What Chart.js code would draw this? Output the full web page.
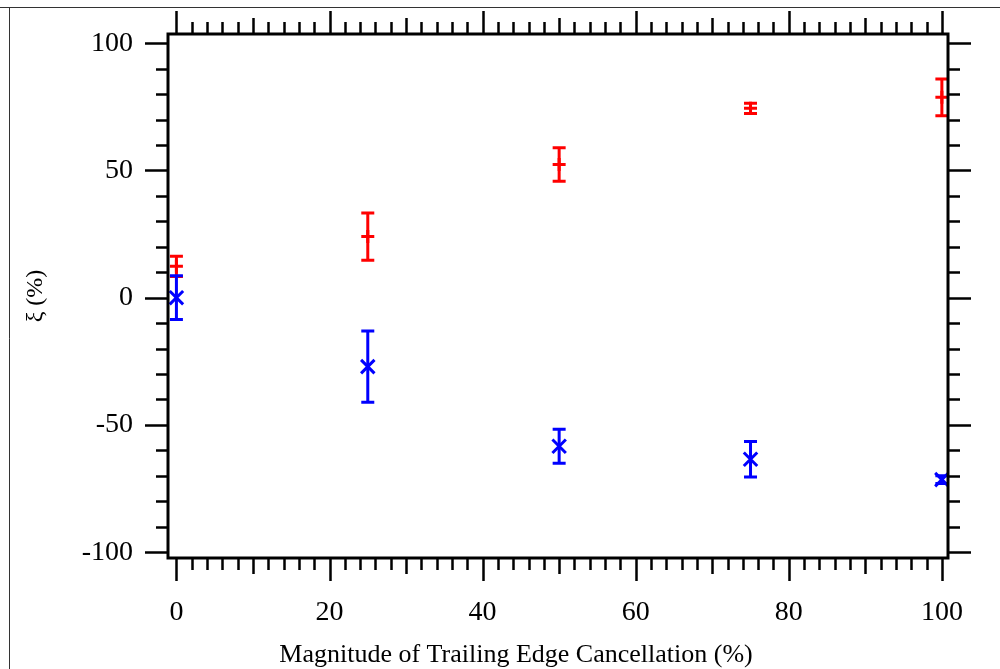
<!DOCTYPE html>
<html>
<head>
<meta charset="utf-8">
<script src="https://cdn.jsdelivr.net/npm/chart.js@4.4.1/dist/chart.umd.min.js"></script>
<style>
    html, body { margin: 0; padding: 0; background: #fff; }
    #wrap { width: 1000px; height: 669px; }
</style>
</head>
<body>
<div id="wrap"><canvas id="xiChart" width="1000" height="669"></canvas></div>
<script>
// Trailing edge cancellation magnitude (%)
const cancellation = [0, 25, 50, 75, 100];

// Red series: mean and half-width of the error bar
const redValues = [12.3, 24.0, 52.3, 74.4, 78.7];
const redErrors = [4.0, 9.3, 6.6, 2.0, 7.2];

// Blue series
const blueValues = [0, -27.1, -58.4, -63.5, -71.5];
const blueErrors = [8.6, 14.0, 6.7, 7.0, 1.5];

// Labelled ticks
const xTickLabels = [0, 20, 40, 60, 80, 100];
const yTickLabels = [-100, -50, 0, 50, 100];

const xTitle = 'Magnitude of Trailing Edge Cancellation (%)';
const serif = '"Liberation Serif", "Times New Roman", serif';

function toPoints(values) {
    return cancellation.map((x, i) => ({ x: x, y: values[i] }));
}

// White page with the thin outer frame along the top and left edges
const pageFrame = {
    id: 'pageFrame',
    beforeDraw(chart) {
        const ctx = chart.ctx;
        ctx.save();
        ctx.fillStyle = '#fff';
        ctx.fillRect(0, 0, chart.width, chart.height);
        ctx.strokeStyle = '#333';
        ctx.lineWidth = 1;
        ctx.beginPath();
        ctx.moveTo(0, 7.5);
        ctx.lineTo(chart.width, 7.5);
        ctx.moveTo(9.5, 7.5);
        ctx.lineTo(9.5, chart.height);
        ctx.stroke();
        ctx.restore();
    }
};

// Vertical error bars with caps, drawn under the markers
const errorBars = {
    id: 'errorBars',
    beforeDatasetsDraw(chart) {
        const ctx = chart.ctx;
        const xs = chart.scales.x;
        const ys = chart.scales.y;
        ctx.save();
        chart.data.datasets.forEach(ds => {
            ctx.strokeStyle = ds.borderColor;
            ctx.lineWidth = 3;
            ds.data.forEach((p, i) => {
                const e = ds.errors[i];
                const px = xs.getPixelForValue(p.x);
                const top = ys.getPixelForValue(p.y + e);
                const bot = ys.getPixelForValue(p.y - e);
                ctx.beginPath();
                ctx.moveTo(px, top);
                ctx.lineTo(px, bot);
                ctx.moveTo(px - 6.5, top);
                ctx.lineTo(px + 6.5, top);
                ctx.moveTo(px - 6.5, bot);
                ctx.lineTo(px + 6.5, bot);
                ctx.stroke();
            });
        });
        ctx.restore();
    }
};

// Box frame with outward ticks on all four sides, plus the x title
const axisFrame = {
    id: 'axisFrame',
    afterDraw(chart) {
        const ctx = chart.ctx;
        const a = chart.chartArea;
        const xs = chart.scales.x;
        const ys = chart.scales.y;
        ctx.save();
        ctx.strokeStyle = '#000';
        ctx.lineWidth = 3;
        ctx.lineCap = 'butt';
        ctx.strokeRect(a.left, a.top, a.right - a.left, a.bottom - a.top);

        ctx.lineWidth = 2.5;
        ctx.beginPath();
        for (let v = 0; v <= 100; v += 2) {
            const px = Math.round(xs.getPixelForValue(v)) + 0.5;
            let len = 12;
            if (v % 20 === 0) len = 23;
            else if (v % 10 === 0) len = 16;
            ctx.moveTo(px, a.bottom);
            ctx.lineTo(px, a.bottom + len);
            ctx.moveTo(px, a.top);
            ctx.lineTo(px, a.top - len);
        }
        for (let v = -100; v <= 100; v += 10) {
            const py = Math.round(ys.getPixelForValue(v)) + 0.5;
            const len = v % 50 === 0 ? 23 : 12;
            ctx.moveTo(a.left, py);
            ctx.lineTo(a.left - len, py);
            ctx.moveTo(a.right, py);
            ctx.lineTo(a.right + len, py);
        }
        ctx.stroke();

        // x title sits a little left of the plot centre
        ctx.fillStyle = '#000';
        ctx.font = '26px ' + serif;
        ctx.textAlign = 'center';
        ctx.textBaseline = 'middle';
        ctx.fillText(xTitle, 516, 655);
        ctx.restore();
    }
};

const ctx = document.getElementById('xiChart').getContext('2d');
new Chart(ctx, {
    type: 'scatter',
    data: {
        datasets: [
            {
                label: 'red',
                data: toPoints(redValues),
                errors: redErrors,
                borderColor: '#ff0000',
                backgroundColor: '#ff0000',
                pointStyle: 'cross',
                pointRadius: 6.5,
                pointBorderWidth: 3
            },
            {
                label: 'blue',
                data: toPoints(blueValues),
                errors: blueErrors,
                borderColor: '#0000ff',
                backgroundColor: '#0000ff',
                pointStyle: 'crossRot',
                pointRadius: 9.5,
                pointBorderWidth: 3
            }
        ]
    },
    options: {
        responsive: false,
        animation: false,
        events: [],
        layout: { padding: { top: 34, right: 52, left: 0, bottom: 0 } },
        plugins: {
            legend: { display: false },
            tooltip: { enabled: false }
        },
        scales: {
            x: {
                type: 'linear',
                min: -1.1,
                max: 100.8,
                afterFit: s => {
                    s.height = 111;
                    s.paddingLeft = 0;
                    s.paddingRight = 0;
                },
                afterBuildTicks: s => { s.ticks = xTickLabels.map(v => ({ value: v })); },
                grid: { display: false, drawTicks: false },
                border: { display: false },
                ticks: {
                    color: '#000',
                    padding: 38,
                    maxRotation: 0,
                    font: { family: serif, size: 28 }
                },
                title: { display: false }
            },
            y: {
                type: 'linear',
                min: -102.3,
                max: 103.6,
                afterFit: s => {
                    s.width = 168;
                    s.paddingTop = 0;
                    s.paddingBottom = 0;
                },
                afterBuildTicks: s => { s.ticks = yTickLabels.map(v => ({ value: v })); },
                grid: { display: false, drawTicks: false },
                border: { display: false },
                ticks: {
                    color: '#000',
                    padding: 35,
                    font: { family: serif, size: 28 }
                },
                title: {
                    display: true,
                    text: 'ξ (%)',
                    color: '#000',
                    padding: { top: 21, bottom: 0 },
                    font: { family: serif, size: 24 }
                }
            }
        }
    },
    plugins: [pageFrame, errorBars, axisFrame]
});
</script>
</body>
</html>
